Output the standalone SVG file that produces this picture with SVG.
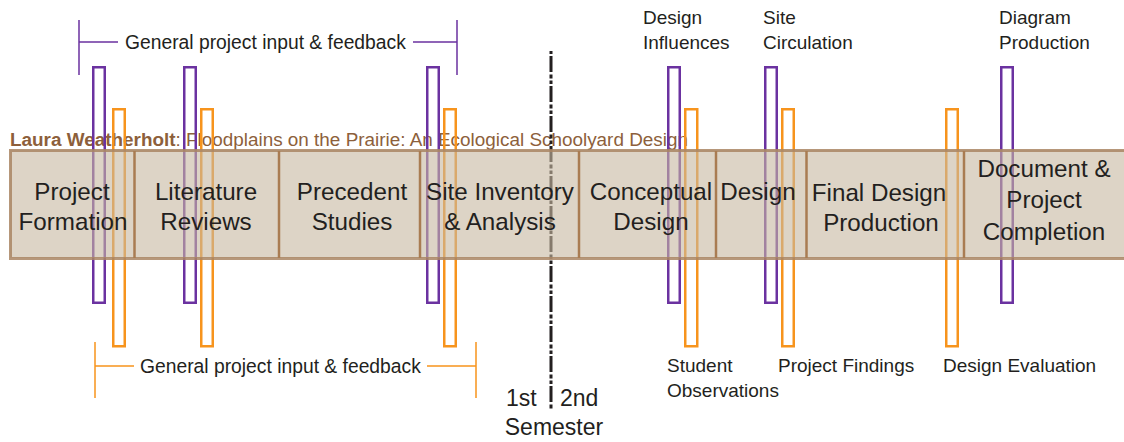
<svg xmlns="http://www.w3.org/2000/svg" width="1124" height="442" viewBox="0 0 1124 442">
<style>
text{font-family:"Liberation Sans",Arial,sans-serif;fill:#231f20}
.lbl{font-size:19px}
.br{font-size:19.3px}
.cell{font-size:24.2px;text-anchor:middle}
.sem{font-size:23px}
.title{font-size:18.9px;fill:#8d5f3b}
.pu{fill:none;stroke:#6b32a0;stroke-width:2.5}
.or{fill:none;stroke:#f7941d;stroke-width:2.5}
.div{stroke:#a97c52;stroke-width:2.5}
</style>
<rect width="1124" height="442" fill="#ffffff"/>
<text class="title" x="10" y="145.5"><tspan font-weight="bold">Laura Weatherholt</tspan>: Floodplains on the Prairie: An Ecological Schoolyard Design</text>
<g id="connectors">
<path d="M79,20 V75 M79,42 H118 M413,42 H457 M457,20 V75" fill="none" stroke="#6b32a0" stroke-width="1.5"/>
<path d="M95,342 V398 M95,366 H134 M427,366 H476 M476,342 V398" fill="none" stroke="#f7941d" stroke-width="1.5"/>
<line x1="551" y1="51" x2="551" y2="410" stroke="#231f20" stroke-width="3" stroke-dasharray="16 2.5 4 2 3.5 2" stroke-dashoffset="25"/>
</g>
<g id="bars">
<rect class="pu" x="93.25" y="67.25" width="11.5" height="235.5"/>
<rect class="pu" x="184.25" y="67.25" width="11.5" height="235.5"/>
<rect class="pu" x="427.25" y="67.25" width="11.5" height="235.5"/>
<rect class="pu" x="668.25" y="67.25" width="11.5" height="235.5"/>
<rect class="pu" x="765.25" y="67.25" width="11.5" height="235.5"/>
<rect class="pu" x="1001.25" y="67.25" width="11.5" height="235.5"/>
<rect class="or" x="113.25" y="109.25" width="11.5" height="237"/>
<rect class="or" x="201.25" y="109.25" width="11.5" height="237"/>
<rect class="or" x="444.25" y="109.25" width="11.5" height="237"/>
<rect class="or" x="685.25" y="109.25" width="12" height="237"/>
<rect class="or" x="782.25" y="109.25" width="11.5" height="237"/>
<rect class="or" x="946.25" y="109.25" width="11.5" height="237"/>
</g>
<g id="banner">
<rect x="10" y="150" width="1130" height="108" fill="#c6b7a0" fill-opacity="0.6"/>
<rect x="10.5" y="150.5" width="1130" height="108" fill="none" stroke="#a98563" stroke-opacity="0.85" stroke-width="3"/>
<line class="div" x1="134.5" y1="151" x2="134.5" y2="258"/>
<line class="div" x1="279" y1="151" x2="279" y2="258"/>
<line class="div" x1="420" y1="151" x2="420" y2="258"/>
<line class="div" x1="579" y1="151" x2="579" y2="258"/>
<line class="div" x1="716" y1="151" x2="716" y2="258"/>
<line class="div" x1="806.5" y1="151" x2="806.5" y2="258"/>
<line class="div" x1="964" y1="151" x2="964" y2="258"/>
</g>
<g id="n-project-formation"><text class="cell" x="72" y="200">Project</text><text class="cell" x="73" y="230">Formation</text></g>
<g id="n-literature"><text class="cell" x="206" y="200">Literature</text><text class="cell" x="206" y="230">Reviews</text></g>
<g id="n-precedent"><text class="cell" x="352" y="200">Precedent</text><text class="cell" x="352" y="230">Studies</text></g>
<g id="n-site-inventory"><text class="cell" x="500" y="200">Site Inventory</text><text class="cell" x="500" y="230">&amp; Analysis</text></g>
<g id="n-conceptual"><text class="cell" x="651" y="200">Conceptual</text><text class="cell" x="651" y="230">Design</text></g>
<g id="n-design"><text class="cell" x="758" y="200">Design</text></g>
<g id="n-final"><text class="cell" x="879" y="201">Final Design</text><text class="cell" x="881" y="231">Production</text></g>
<g id="n-document"><text class="cell" x="1044" y="177">Document &amp;</text><text class="cell" x="1044" y="208">Project</text><text class="cell" x="1044" y="240">Completion</text></g>
<g id="labels-top">
<text class="br" x="125" y="48.5">General project input &amp; feedback</text>
<text class="lbl" x="643" y="24">Design</text><text class="lbl" x="643" y="49">Influences</text>
<text class="lbl" x="763" y="24">Site</text><text class="lbl" x="763" y="49">Circulation</text>
<text class="lbl" x="999" y="24">Diagram</text><text class="lbl" x="999" y="49">Production</text>
</g>
<g id="labels-bottom">
<text class="br" x="140" y="372.5">General project input &amp; feedback</text>
<text class="lbl" x="667" y="372">Student</text><text class="lbl" x="667" y="397">Observations</text>
<text class="lbl" x="778" y="372">Project Findings</text>
<text class="lbl" x="943" y="372">Design Evaluation</text>
</g>
<g id="semester">
<text class="sem" x="506" y="406">1st</text>
<text class="sem" x="560" y="406">2nd</text>
<text class="sem" x="554" y="435" text-anchor="middle">Semester</text>
</g>
</svg>
